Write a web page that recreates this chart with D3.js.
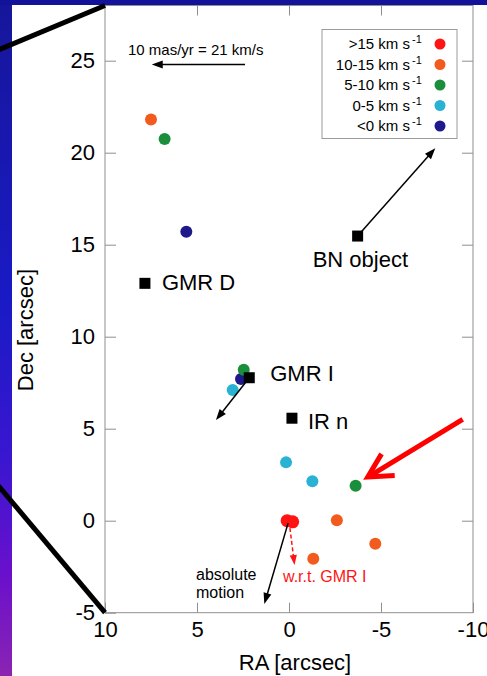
<!DOCTYPE html>
<html>
<head>
<meta charset="utf-8">
<script src="https://cdn.jsdelivr.net/npm/d3@7"></script>
<style>
  html, body { margin: 0; padding: 0; background: #fff; }
  svg { display: block; font-family: "Liberation Sans", Arial, Helvetica, sans-serif; }
</style>
</head>
<body>
<svg id="chart" width="487" height="676"></svg>
<script>
// ---------------- DATA ----------------
const categories = [">15", "10-15", "5-10", "0-5", "<0"];
const categoryLabels = [">15 km s", "10-15 km s", "5-10 km s", "0-5 km s", "<0 km s"];
const categoryColors = ["#ff1414", "#f25a1e", "#1b8e3c", "#2ab2d4", "#1f1a8c"];

// maser spots: RA offset, Dec offset, velocity class
const spotRA  = [7.5, 6.76, 5.58, 2.61, 3.06, 2.46, 0.16, -1.27, -3.62, -2.6, -4.69, -1.32, 0.1, -0.2];
const spotDec = [21.8, 20.75, 15.7, 7.7, 7.1, 8.2, 3.17, 2.14, 1.9, 0.02, -1.25, -2.07, 0.0, -0.06];
const spotCat = ["10-15", "5-10", "<0", "<0", "0-5", "5-10", "0-5", "0-5", "5-10", "10-15", "10-15", "10-15", ">15", ">15"];

// sources (square markers)
const sourceNames = ["GMR D", "BN object", "GMR I", "IR n"];
const sourceRA    = [7.83, -3.73, 2.16, -0.16];
const sourceDec   = [12.9, 15.47, 7.77, 5.57];

// proper-motion vectors [RA0, Dec0] -> [RA1, Dec1]
const motionNames = ["scale", "BN", "GMR I", "absolute", "wrt GMR I"];
const motionRA0  = [2.39, -3.73, 2.16, 0.05, -0.05];
const motionDec0 = [24.8, 15.47, 7.77, -0.13, -0.4];
const motionRA1  = [7.46, -7.95, 3.97, 1.34, -0.3];
const motionDec1 = [24.8, 20.24, 5.47, -4.53, -2.41];

// red pointer annotation
const pointerRA  = [-9.44, -4.28];
const pointerDec = [5.51, 2.37];

const xTicks = [10, 5, 0, -5, -10];
const yTicks = [-5, 0, 5, 10, 15, 20, 25];
const xDomain = [10, -10];
const yDomain = [-5, 28];

// ---------------- LAYOUT ----------------
const svg = d3.select("#chart");
const W = 487, H = 676;
const plot = { left: 105, right: 473, top: 5.5, bottom: 612.7 };
const x = d3.scaleLinear().domain(xDomain).range([plot.left, plot.right]);
const y = d3.scaleLinear().domain(yDomain).range([plot.bottom, plot.top]);
const color = d3.scaleOrdinal().domain(categories).range(categoryColors);
const frameColor = "#8f8f8f";

// slide background
const defs = svg.append("defs");
const grad = defs.append("linearGradient").attr("id", "leftGrad")
  .attr("x1", 0).attr("y1", 0).attr("x2", 0).attr("y2", 1);
[["0", "#16169a"], ["0.45", "#1a1ac6"], ["0.68", "#3a16d0"], ["0.85", "#6a10cc"], ["1", "#8a24b2"]]
  .forEach(([o, c]) => grad.append("stop").attr("offset", o).attr("stop-color", c));

svg.append("rect").attr("width", W).attr("height", H).attr("fill", "#fff");
svg.append("rect").attr("x", 0).attr("y", 0).attr("width", 12).attr("height", H).attr("fill", "url(#leftGrad)");
svg.append("rect").attr("x", 0).attr("y", 0).attr("width", W).attr("height", 5).attr("fill", "#12129a");

// axes
const gx = svg.append("g").attr("transform", `translate(0,${plot.bottom})`)
  .call(d3.axisBottom(x).tickValues(xTicks).tickSizeInner(-10).tickSizeOuter(0).tickPadding(9));
const gy = svg.append("g").attr("transform", `translate(${plot.left},0)`)
  .call(d3.axisLeft(y).tickValues(yTicks).tickSizeInner(-11).tickSizeOuter(0).tickPadding(10));
const gt = svg.append("g").attr("transform", `translate(0,${plot.top})`)
  .call(d3.axisTop(x).tickValues(xTicks.slice(1, -1)).tickFormat("").tickSizeInner(-10).tickSizeOuter(0));
const gr = svg.append("g").attr("transform", `translate(${plot.right},0)`)
  .call(d3.axisRight(y).tickValues(yTicks.slice(1)).tickFormat("").tickSizeInner(-11).tickSizeOuter(0));
[gx, gy, gt, gr].forEach(g => {
  g.select(".domain").remove();
  g.selectAll(".tick line").attr("stroke", frameColor);
  g.selectAll(".tick text").attr("fill", "#000").style("font-size", "22px")
    .style("font-family", '"Liberation Sans", Arial, sans-serif');
});
gx.selectAll(".tick text").text(d => String(d));
gy.selectAll(".tick text").text(d => String(d));

svg.append("rect")
  .attr("x", plot.left).attr("y", plot.top)
  .attr("width", plot.right - plot.left).attr("height", plot.bottom - plot.top)
  .attr("fill", "none").attr("stroke", frameColor).attr("stroke-width", 1);

// axis titles
svg.append("text").attr("x", (plot.left + plot.right) / 2 + 6).attr("y", 670)
  .attr("text-anchor", "middle").style("font-size", "22px").text("RA [arcsec]");
svg.append("text").attr("transform", `translate(33,${(plot.top + plot.bottom) / 2 + 21}) rotate(-90)`)
  .attr("text-anchor", "middle").style("font-size", "22px").text("Dec [arcsec]");

// arrow helper
function arrow(g, x0, y0, x1, y1, opts) {
  const o = Object.assign({ color: "#000", width: 1.5, head: 11, half: 4, dash: null }, opts || {});
  const dx = x1 - x0, dy = y1 - y0, L = Math.hypot(dx, dy);
  const ux = dx / L, uy = dy / L;
  const bx = x1 - ux * o.head, by = y1 - uy * o.head;
  g.append("line").attr("x1", x0).attr("y1", y0).attr("x2", bx + ux * 1).attr("y2", by + uy * 1)
    .attr("stroke", o.color).attr("stroke-width", o.width).attr("stroke-dasharray", o.dash);
  g.append("path")
    .attr("d", d3.line()([[x1, y1], [bx - uy * o.half, by + ux * o.half], [bx + uy * o.half, by - ux * o.half]]) + "Z")
    .attr("fill", o.color);
}

// legend
const lg = svg.append("g");
lg.append("rect").attr("x", 322).attr("y", 29.5).attr("width", 135).attr("height", 109)
  .attr("fill", "#fff").attr("stroke", "#9a9a9a").attr("stroke-width", 1);
categories.forEach((c, i) => {
  const cy = 44 + i * 20.5;
  lg.append("text").attr("x", 410).attr("y", cy + 5.3).attr("text-anchor", "end")
    .style("font-size", "15px").text(categoryLabels[i]);
  lg.append("text").attr("x", 412).attr("y", cy - 0.7).attr("text-anchor", "start")
    .style("font-size", "11px").text("-1");
  lg.append("circle").attr("cx", 440).attr("cy", cy).attr("r", 5.5).attr("fill", color(c));
});

// scale arrow label
const ag = svg.append("g");
svg.append("text").attr("x", 128).attr("y", 55).style("font-size", "15px").text("10 mas/yr = 21 km/s");

// spots
const spots = spotRA.map((r, i) => ({ ra: r, dec: spotDec[i], cat: spotCat[i] }));
svg.append("g").selectAll("circle").data(spots).join("circle")
  .attr("cx", d => x(d.ra)).attr("cy", d => y(d.dec))
  .attr("r", d => d.cat === ">15" ? 6.5 : 6)
  .attr("fill", d => color(d.cat));

// motion vectors
motionNames.forEach((n, i) => {
  const opts = n === "wrt GMR I" ? { color: "#ff1414", dash: "4,2.5", width: 1.5, head: 10, half: 3.6 } : {};
  arrow(ag, x(motionRA0[i]), y(motionDec0[i]), x(motionRA1[i]), y(motionDec1[i]), opts);
});
ag.raise();

// sources
const sources = sourceNames.map((n, i) => ({ name: n, ra: sourceRA[i], dec: sourceDec[i] }));
const labelOffset = { "GMR D": [17, 6.5], "BN object": [-45, 31], "GMR I": [21, 3.5], "IR n": [16, 11] };
const sg = svg.append("g");
sg.selectAll("rect").data(sources).join("rect")
  .attr("x", d => x(d.ra) - 5.5).attr("y", d => y(d.dec) - 5.5)
  .attr("width", 11).attr("height", 11).attr("fill", "#000");
sg.selectAll("text").data(sources).join("text")
  .attr("x", d => x(d.ra) + labelOffset[d.name][0])
  .attr("y", d => y(d.dec) + labelOffset[d.name][1])
  .style("font-size", "22px").text(d => d.name);

// motion labels
["absolute", "motion"].forEach((t, i) => {
  svg.append("text").attr("x", 196).attr("y", 580 + i * 18).style("font-size", "16px").text(t);
});
svg.append("text").attr("x", 283).attr("y", 582).attr("fill", "#ff1414")
  .style("font-size", "16px").text("w.r.t. GMR I");

// red pointer arrow
const px0 = x(pointerRA[0]), py0 = y(pointerDec[0]), px1 = x(pointerRA[1]), py1 = y(pointerDec[1]);
const ang = Math.atan2(py0 - py1, px0 - px1);
const armLen = 27, spread = 28 * Math.PI / 180;
svg.append("path")
  .attr("d", d3.line()([[px0, py0], [px1 + 4 * Math.cos(ang), py1 + 4 * Math.sin(ang)]]))
  .attr("stroke", "#ff0000").attr("stroke-width", 5).attr("fill", "none");
svg.append("path")
  .attr("d", d3.line()([
    [px1 + armLen * Math.cos(ang - spread), py1 + armLen * Math.sin(ang - spread)],
    [px1, py1],
    [px1 + armLen * Math.cos(ang + spread), py1 + armLen * Math.sin(ang + spread)]
  ]))
  .attr("stroke", "#ff0000").attr("stroke-width", 5).attr("fill", "none")
  .attr("stroke-linejoin", "miter").attr("stroke-linecap", "butt");

// zoom guide lines from the slide
const cTop = [x(xDomain[0]), y(yDomain[1])];
const cBot = [x(xDomain[0]), y(yDomain[0])];
svg.append("line").attr("x1", cTop[0] - 115).attr("y1", cTop[1] + 48).attr("x2", cTop[0]).attr("y2", cTop[1])
  .attr("stroke", "#000").attr("stroke-width", 5);
svg.append("line").attr("x1", cBot[0] - 110).attr("y1", cBot[1] - 131).attr("x2", cBot[0]).attr("y2", cBot[1])
  .attr("stroke", "#000").attr("stroke-width", 5);
</script>
</body>
</html>
